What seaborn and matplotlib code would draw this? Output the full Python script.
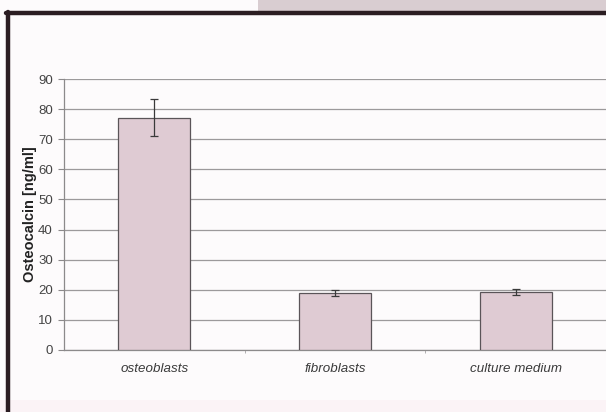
import matplotlib
matplotlib.use("Agg")
import matplotlib.pyplot as plt
from matplotlib.patches import Rectangle
from matplotlib.lines import Line2D
import seaborn as sns
import pandas as pd

categories = ["osteoblasts", "fibroblasts", "culture medium"]
means = [77.2, 19.0, 19.2]
errors = [6.0, 1.0, 1.1]
yticks = [0, 10, 20, 30, 40, 50, 60, 70, 80, 90]

sns.set_theme(style="white")
plt.rcParams["font.family"] = ["Liberation Sans", "DejaVu Sans"]

df = pd.DataFrame({"group": categories, "value": means})

fig = plt.figure(figsize=(6.06, 4.12), dpi=100)
fig.patch.set_facecolor("#fdfbfc")

# scanned page frame: tinted strip above, dark border on left and top
fig.patches.append(Rectangle((258 / 606, 1 - 11 / 412), 1 - 258 / 606, 11 / 412,
                             transform=fig.transFigure, facecolor="#d9cdd1",
                             edgecolor="none", zorder=0))
fig.patches.append(Rectangle((0, 0), 1, 12 / 412, transform=fig.transFigure,
                             facecolor="#fbf3f6", edgecolor="none", zorder=0))
fig.lines.append(Line2D([7.5 / 606, 7.5 / 606], [0, 1 - 12 / 412],
                        transform=fig.transFigure, color="#2b1d22", lw=3.2))
fig.lines.append(Line2D([6 / 606, 1], [1 - 13 / 412, 1 - 13 / 412],
                        transform=fig.transFigure, color="#2b1d22", lw=3.2))

ax = fig.add_axes([64 / 606, 62 / 412, 1 - 64 / 606, 271 / 412])
ax.set_facecolor("none")

sns.barplot(data=df, x="group", y="value", ax=ax, color="#dfcbd3",
            saturation=1, width=0.40, edgecolor="#5a5458", linewidth=0.9,
            errorbar=None, zorder=3)
ax.errorbar(range(len(categories)), means, yerr=errors, fmt="none",
            ecolor="#3a3a3a", elinewidth=0.9, capsize=3, capthick=0.9, zorder=4)

ax.set_xlim(-0.5, 2.5)
ax.set_ylim(0, 90)
ax.set_yticks(yticks)
ax.yaxis.grid(True, color="#9c9a9b", linewidth=0.9)
ax.set_axisbelow(True)

for side in ("top", "right"):
    ax.spines[side].set_visible(False)
for side in ("left", "bottom"):
    ax.spines[side].set_color("#8c8a8b")
    ax.spines[side].set_linewidth(0.9)

ax.tick_params(axis="y", which="major", length=4, width=0.8, color="#8c8a8b",
               direction="out", labelsize=9.5, labelcolor="#444444", pad=4, left=True)
ax.tick_params(axis="x", which="major", length=0, labelsize=9.6,
               labelcolor="#3a3a3a", pad=9)
ax.set_xticks([0.5, 1.5], minor=True)
ax.tick_params(axis="x", which="minor", length=2.5, width=0.7, color="#b0aeaf",
               direction="out", bottom=True)
for lbl in ax.get_xticklabels():
    lbl.set_fontstyle("italic")

ax.set_xlabel("")
ax.set_ylabel("Osteocalcin [ng/ml]", fontsize=10.5, fontweight="bold",
              color="#222222", labelpad=1)

fig.savefig("out.png", dpi=100)
